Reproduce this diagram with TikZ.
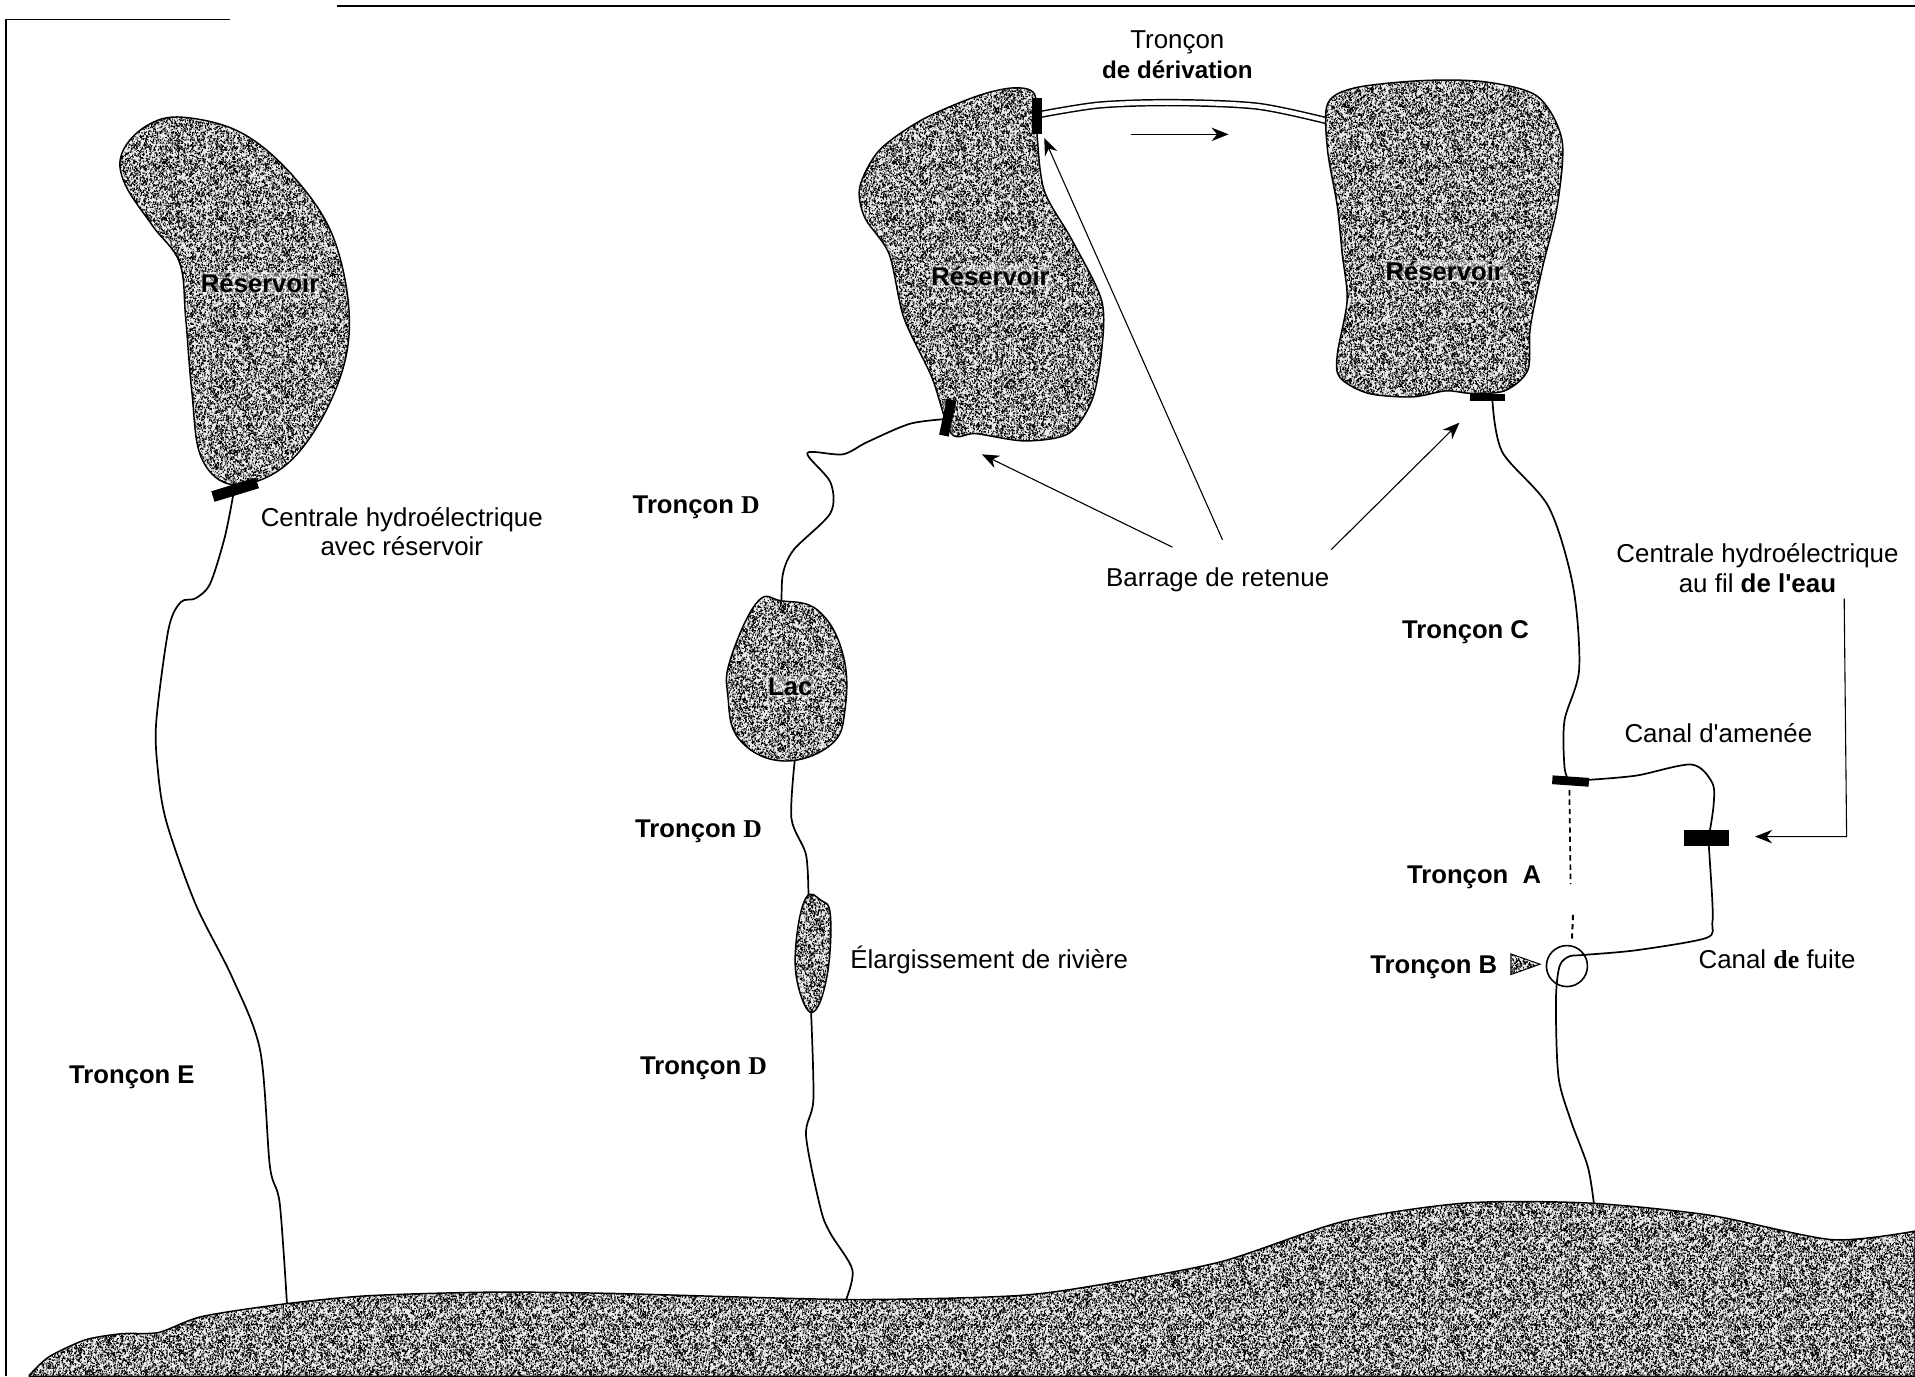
\documentclass[tikz,border=0pt]{standalone}
\usepackage{fontspec}
\setmainfont[Ligatures=TeXOff]{Liberation Sans}
\newfontfamily\serifbold[BoldFont={Liberation Serif Bold}]{Liberation Serif}
\usetikzlibrary{arrows.meta,patterns}
\pgfmathsetseed{4242}
\def\nr#1#2#3#4{\pgfpathrectangle{\pgfqpoint{#1pt}{#2pt}}{\pgfqpoint{#3pt}{#4pt}}}
\newtoks\noisetoks
\def\buildnoise#1#2#3{% macro name, rect count, tile size*100
  \global\noisetoks{}%
  \foreach \i in {1,...,#2}{%
    \pgfmathsetmacro\rx{int(rnd*#3)/100}\pgfmathsetmacro\ry{int(rnd*#3)/100}%
    \pgfmathsetmacro\rw{int(22+rnd*30)/100}\pgfmathsetmacro\rh{int(28+rnd*42)/100}%
    \edef\tmpa{\noexpand\nr{\rx}{\ry}{\rw}{\rh}}%
    \global\noisetoks\expandafter\expandafter\expandafter{\expandafter\the\expandafter\noisetoks\tmpa}%
  }%
  \expandafter\xdef\csname #1\endcsname{\the\noisetoks}%
}
\buildnoise{noisebodya}{700}{2300}
\buildnoise{noisebodyb}{1100}{2900}
\pgfdeclarepatternformonly{noisea}{\pgfpointorigin}{\pgfqpoint{23pt}{23pt}}{\pgfqpoint{23pt}{23pt}}{%
  \noisebodya\pgfusepath{fill}%
}
\pgfdeclarepatternformonly{noiseb}{\pgfpointorigin}{\pgfqpoint{29pt}{29pt}}{\pgfqpoint{29pt}{29pt}}{%
  \noisebodyb\pgfusepath{fill}%
}
\tikzset{
  speckle/.style={preaction={fill=black!8},preaction={pattern=noisea,pattern color=black},pattern=noiseb,pattern color=black,draw=black,line width=0.6pt},
  river/.style={draw=black,line width=0.7pt,line cap=round,line join=round},
  pointer/.style={draw=black,line width=0.45pt,-{Stealth[length=7pt,width=5.5pt]}},
  dam/.style={fill=black,inner sep=0pt,outer sep=0pt},
  lab/.style={font=\fontsize{10.6}{12}\selectfont,align=center,inner sep=0pt,text=black,yshift=-1pt},
  blab/.style={font=\fontsize{10.5}{12}\selectfont\bfseries,align=center,inner sep=0pt,text=black,yshift=-1pt},
  halo/.style={blab,inner sep=0.6pt,fill=white,fill opacity=0.4,text opacity=1},
  frameline/.style={draw=black,line width=0.6pt}
}
\begin{document}
\begin{tikzpicture}[x=0.5pt,y=-0.5pt]
\useasboundingbox (0,0) rectangle (1568,1126.7);
\coordinate (fa) at (5,1127); \coordinate (fb) at (5,16); \coordinate (fc) at (188,16);
\coordinate (fd) at (276,5); \coordinate (fe) at (1568,5);
\draw[frameline] (fa) -- (fb) -- (fc);
\draw[frameline] (fd) -- (fe);
\node[dam,minimum width=15pt,minimum height=3.6pt,rotate=-4] (d5) at (1286,639.5) {};
\node[dam,minimum width=18.5pt,minimum height=6.3pt] (d6) at (1397.5,686) {};
\draw[river] plot[smooth,tension=0.5] coordinates {(191,405) (184,440) (172,478) (160,490) (148,493) (138,515) (128,590) (129,628) (136,672) (160,740) (190,800) (213,860) (221,955) (229,985) (235,1068)};
\draw[river] plot[smooth,tension=0.5] coordinates {(776,343) (745,347) (710,362) (690,372) (661,371) (680,395) (680,420) (650,450) (641,470) (640,495)};
\draw[river] plot[smooth,tension=0.5] coordinates {(651,620) (648,670) (660,700) (662,737)};
\draw[river] plot[smooth,tension=0.5] coordinates {(664,826) (666,900) (660,930) (672,990) (680,1010) (698,1040) (692,1066)};
\draw[river] plot[smooth,tension=0.5] coordinates {(1222,328) (1230,370) (1268,415) (1288,480) (1293,548) (1281,590) (1281,628) (1285,640)};
\draw[river] plot[smooth,tension=0.5] coordinates {(1301,638.5) (1340,635) (1385,626) (1402,641) (1403,660) (1399,686)};
\draw[river] plot[smooth,tension=0.5] coordinates {(1399,690) (1402,737) (1402,756) (1397,768) (1340,778) (1295,782) (1285,783) (1277,791) (1274,819) (1276,881) (1286,917) (1300,955) (1305,985)};
\coordinate (ta) at (1285,647); \coordinate (tb) at (1286,724); \coordinate (tc) at (1288,749); \coordinate (td) at (1287,771);
\draw[draw=black,line width=0.7pt,dash pattern=on 2.2pt off 1.6pt] (ta) -- (tb);
\draw[draw=black,line width=0.8pt,dash pattern=on 2.2pt off 1.6pt] (tc) -- (td);
\draw[draw=black,line width=0.6pt,double=white,double distance=1.8pt] plot[smooth,tension=0.5] coordinates {(850,94) (900,86) (960,84) (1030,87) (1089,99.5)};
\path[speckle] plot[smooth cycle,tension=0.62] coordinates {(150,96) (120,103) (100,125) (102,150) (125,185) (147,215) (152,260) (157,320) (165,375) (192,397) (235,380) (270,330) (286,270) (275,200) (245,150) (200,110)};
\path[speckle] plot[smooth cycle,tension=0.5] coordinates {(829,72) (847,77) (849,109) (855,156) (878,197) (902,246) (902,287) (894,328) (875,355) (839,361) (799,355) (779,355) (763,309) (740,260) (728,208) (708,178) (704,153) (720,123) (755,98) (799,79)};
\path[speckle] plot[smooth cycle,tension=0.5] coordinates {(1087,85) (1109,72) (1164,66) (1216,67) (1259,79) (1279,115) (1275,169) (1263,219) (1253,268) (1251,303) (1232,320) (1204,322) (1184,320) (1156,325) (1120,322) (1097,309) (1095,290) (1103,246) (1099,208) (1095,169) (1087,123)};
\path[speckle] plot[smooth cycle,tension=0.7] coordinates {(620,493) (640,492) (670,500) (690,535) (692,580) (680,610) (640,623) (605,605) (596,570) (598,540)};
\path[speckle] plot[smooth cycle,tension=0.7] coordinates {(660,735) (672,737) (680,750) (677,800) (665,829) (653,805) (652,770)};
\path[speckle] plot[smooth,tension=0.45] coordinates {(24,1126) (40,1111) (70,1097) (100,1092) (130,1091) (165,1078) (230,1068) (300,1061) (400,1058) (500,1059) (695,1064) (830,1061) (900,1052) (1000,1033) (1100,1000) (1200,985) (1300,985) (1400,995) (1500,1015) (1568,1008)} -- (1568,1127) -- (24,1127) -- cycle;
\node[dam,minimum width=19pt,minimum height=4.5pt,rotate=17] (d1) at (192.5,401) {};
\node[dam,minimum width=14.5pt,minimum height=4pt,rotate=90] (d2) at (849,95) {};
\node[dam,minimum width=15pt,minimum height=4pt,rotate=78] (d3) at (776,342) {};
\node[dam,minimum width=14.5pt,minimum height=3pt] (d4) at (1218,325.5) {};
\node[draw=black,line width=0.65pt,circle,minimum size=16.8pt,inner sep=0pt] (conf) at (1283,791) {};
\coordinate (tria) at (1237,781); \coordinate (trib) at (1261,789.5); \coordinate (tric) at (1237,798);
\path[speckle,line width=0.4pt] (tria) -- (trib) -- (tric) -- cycle;
\node[lab] (t1) at (964,33) {Tronçon};
\node[blab,font=\fontsize{9.9}{12}\selectfont\bfseries] (t2) at (964,55) {de dérivation};
\node[halo] (r1) at (213,230) {Réservoir};
\node[halo] (r2) at (811,224) {Réservoir};
\node[halo] (r3) at (1183,220) {Réservoir};
\node[halo] (lac) at (647,560) {Lac};
\node[lab] (c1) at (329,433) {Centrale hydroélectrique\\avec réservoir};
\node[lab] (c2) at (1439,453) {Centrale hydroélectrique};
\node[lab] (c3) at (1439,475.5) {au fil \textbf{de l'eau}};
\node[lab] (bar) at (997,473) {Barrage de retenue};
\node[blab] (td1) at (570,413) {Tronçon {\serifbold\bfseries D}};
\node[blab] (td2) at (572,679) {Tronçon {\serifbold\bfseries D}};
\node[blab] (td3) at (576,873) {Tronçon {\serifbold\bfseries D}};
\node[blab] (te) at (108,880) {Tronçon E};
\node[blab] (tcc) at (1200,516) {Tronçon C};
\node[blab] (tca) at (1207,716) {Tronçon\ \ A};
\node[blab] (tcb) at (1174,790) {Tronçon B};
\node[lab] (am) at (1407,598.5) {Canal d'amenée};
\node[lab] (fu) at (1455,783) {Canal {\serifbold\bfseries de} fuite};
\node[lab] (el) at (810,784) {Élargissement de rivière};
\coordinate (p1) at (960,448); \coordinate (q1) at (804,372);
\coordinate (p2) at (1001,442); \coordinate (q2) at (855,113);
\coordinate (p3) at (1090,450); \coordinate (q3) at (1195,346);
\coordinate (fl1) at (926,110); \coordinate (fl2) at (1006,110);
\coordinate (ra) at (1510,490); \coordinate (rb) at (1512,685); \coordinate (rc) at (1437,685);
\draw[pointer] (p1) -- (q1);
\draw[pointer] (p2) -- (q2);
\draw[pointer] (p3) -- (q3);
\draw[pointer] (fl1) -- (fl2);
\draw[pointer] (ra) -- (rb) -- (rc);
\end{tikzpicture}
\end{document}
